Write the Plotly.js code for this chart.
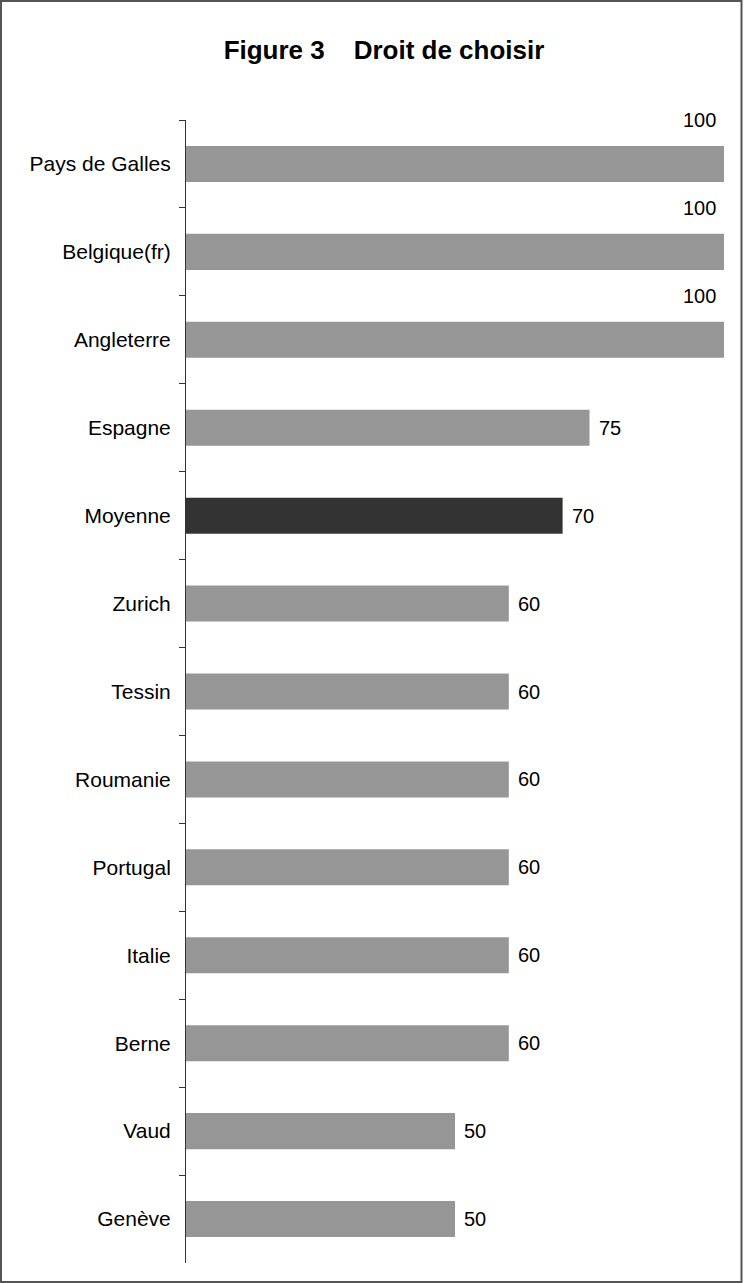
<!DOCTYPE html>
<html>
<head>
<meta charset="utf-8">
<script src="https://cdn.plot.ly/plotly-3.0.1.min.js"></script>
<style>
html,body{margin:0;padding:0;background:#fff;}
#chart{width:744px;height:1283px;}
</style>
</head>
<body>
<div id="chart"></div>
<script>
const categories = ["Pays de Galles","Belgique(fr)","Angleterre","Espagne","Moyenne","Zurich","Tessin","Roumanie","Portugal","Italie","Berne","Vaud","Genève"];
const values = [100,100,100,75,70,60,60,60,60,60,60,50,50];
const highlight = "Moyenne";
const titleText = "<b>Figure 3&nbsp;&nbsp;&nbsp;&nbsp;Droit de choisir</b>";

const FONT = "Liberation Sans, Arial, Helvetica, sans-serif";
const colors = categories.map(c => c === highlight ? "#333333" : "#969696");

const annotations = categories.map((c, i) => {
  const v = values[i];
  if (v >= 100) {
    return {x: v, y: c, xref: "x", yref: "y", text: String(v), showarrow: false,
            xanchor: "right", yanchor: "middle", xshift: -6, yshift: 44,
            font: {family: FONT, size: 20, color: "#000"}};
  }
  return {x: v, y: c, xref: "x", yref: "y", text: String(v), showarrow: false,
          xanchor: "left", yanchor: "middle", xshift: 7,
          font: {family: FONT, size: 20, color: "#000"}};
});

const W = 744, H = 1283;
const m = {l: 186, r: 20, t: 120, b: 20};
const pw = W - m.l - m.r, ph = H - m.t - m.b;
const px = v => (v - m.l) / pw;
const py = v => (H - m.b - v) / ph;

Plotly.newPlot("chart", [{
  type: "bar",
  orientation: "h",
  x: values,
  y: categories,
  marker: {color: colors, line: {width: 0}},
  hoverinfo: "none"
}], {
  width: W, height: H,
  margin: m,
  paper_bgcolor: "#fff",
  plot_bgcolor: "#fff",
  bargap: 0.59,
  showlegend: false,
  font: {family: FONT, size: 20, color: "#000"},
  title: {text: titleText, font: {family: FONT, size: 26, color: "#000"},
          xref: "container", x: 384 / W, xanchor: "center",
          yref: "container", y: 1 - 50 / H, yanchor: "middle"},
  xaxis: {range: [0, 100], visible: false, fixedrange: true},
  yaxis: {type: "category", autorange: false, range: [categories.length - 0.5, -0.5],
          showline: true, linecolor: "#333", linewidth: 1,
          ticks: "outside", ticklen: 6, tickcolor: "#333", tickson: "boundaries",
          showgrid: false, zeroline: false, ticklabelstandoff: 10,
          tickfont: {family: FONT, size: 21, color: "#000"}},
  annotations: annotations,
  shapes: [{type: "rect", xref: "paper", yref: "paper", layer: "above",
            x0: px(1), x1: px(741.5), y0: py(1282), y1: py(1),
            line: {color: "#555", width: 2}, fillcolor: "rgba(0,0,0,0)"}]
}, {displayModeBar: false, staticPlot: true});
</script>
</body>
</html>
